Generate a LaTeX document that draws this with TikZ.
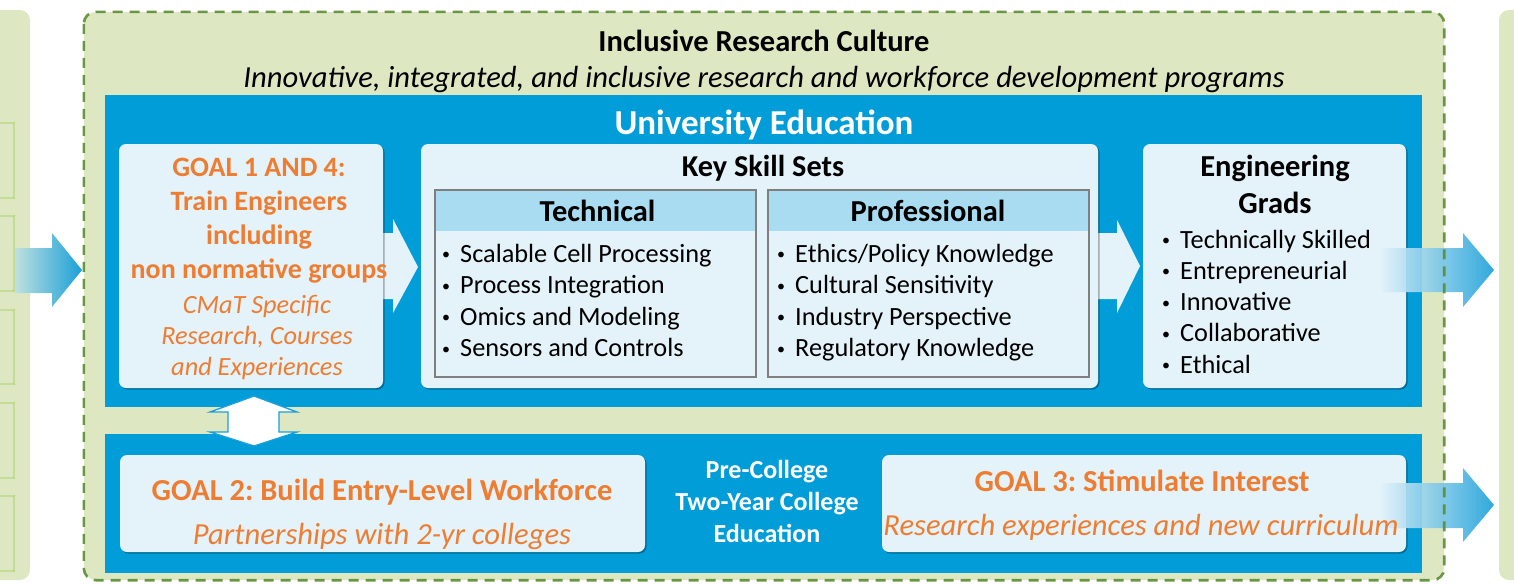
\documentclass[tikz,border=0pt]{standalone}
\usepackage{fontspec}
\setmainfont{Carlito}
\frenchspacing
\usetikzlibrary{calc,shadows}
\definecolor{gfill}{HTML}{DDE8C3}
\definecolor{gdash}{HTML}{5B8C32}
\definecolor{gline}{HTML}{B8D780}
\definecolor{ublue}{HTML}{009DD8}
\definecolor{abluedark}{HTML}{1A9FD8}
\definecolor{lbox}{HTML}{E4F2FA}
\definecolor{hdr}{HTML}{A9DCF1}
\definecolor{borange}{HTML}{EE7D31}
\definecolor{bgray}{HTML}{7F7F7F}
\newcommand{\fs}[2]{\fontsize{#1}{#2}\selectfont}
\newcommand{\bul}{\makebox[18pt][l]{\raisebox{2.5pt}{\fs{16}{16}•}}}
\newcommand{\linesL}[1]{\begin{tabular}[t]{@{}l@{}}#1\end{tabular}}
\newcommand{\linesC}[1]{\begin{tabular}[t]{@{}c@{}}#1\end{tabular}}
\tikzset{
  gpanel/.style={fill=gfill, rounded corners=10pt, inner sep=0pt},
  bluebox/.style={fill=ublue, inner sep=0pt},
  lightbox/.style={fill=lbox, rounded corners=7pt, inner sep=0pt,
    drop shadow={shadow xshift=1.5pt, shadow yshift=-1.5pt, opacity=0.3, fill=black}},
  skillbox/.style={fill=lbox, inner sep=0pt},
  txt/.style={inner sep=0pt, anchor=base},
  txtl/.style={inner sep=0pt, anchor=base west},
  minib/.style={draw=gline, line width=1.2pt, rounded corners=6pt},
  outarrow/.style={left color=lbox, right color=abluedark, fill opacity=0.9}
}
\begin{document}
\begin{tikzpicture}[x=1pt,y=-1pt]
\useasboundingbox (0,0) rectangle (1514,584);
% side panels
\node[gpanel, minimum width=60pt, minimum height=570pt] (lp) at (0,295) {};
\node[gpanel, minimum width=60pt, minimum height=570pt] (rp) at (1529,295) {};
\foreach \a/\b [count=\i] in {123/198,216/291,310/384,403/478,496/571}{
  \draw[minib] (-20,\a) -- (8,\a) arc[start angle=90,end angle=0,radius=6pt] -- (14,\b-6) arc[start angle=0,end angle=-90,radius=6pt] -- (-20,\b);
}
% outer dashed panel fill
\node[fill=gfill, rounded corners=12pt, minimum width=1360pt, minimum height=568pt, inner sep=0pt] (outer) at (764,296) {};
% titles
\node[txt, font=\bfseries\fs{30.5}{36}] (t1) at (764,51) {Inclusive Research Culture};
\node[txt, font=\itshape\fs{30.6}{36}] (t2) at (764,87) {Innovative, integrated, and inclusive research and workforce development programs};
% blue bands
\node[bluebox, minimum width=1317pt, minimum height=312pt] (btop) at (763.5,251) {};
\node[bluebox, minimum width=1317pt, minimum height=139pt] (bbot) at (763.5,503.5) {};
\node[txt, text=white, font=\bfseries\fs{35}{40}] (ue) at (764,134) {University Education};
% arrows in top band (behind boxes)
\fill[lbox] (373,233) -- (393,233) -- (393,219) -- (418,267) -- (393,313) -- (393,299) -- (373,299) -- cycle;
\fill[lbox] (1090,233) -- (1117,233) -- (1117,220) -- (1140,266) -- (1117,313) -- (1117,299) -- (1090,299) -- cycle;
% goal 1
\node[lightbox, minimum width=264pt, minimum height=244pt] (g1) at (251,266) {};
\node[txt, text=borange, font=\bfseries\fs{28}{34.3}] (g1a) at (259,176) {\linesC{GOAL 1 AND 4:\\Train Engineers\\including\\non normative groups}};
\node[txt, text=borange, font=\itshape\fs{26.3}{31}] (g1b) at (257,313) {\linesC{CMaT Specific\\Research, Courses\\and Experiences}};
% key skill sets
\node[lightbox, minimum width=677pt, minimum height=244pt] (sk) at (759.5,266) {};
\node[txt, font=\bfseries\fs{30.3}{36}] (skt) at (763,176) {Key Skill Sets};
\node[skillbox, minimum width=321pt, minimum height=187pt] (tech) at (595.5,283.5) {};
\fill[hdr] (tech.north west) rectangle ($(tech.north east)+(0,41)$);
\draw[bgray, line width=1.8pt] (tech.north west) rectangle (tech.south east);
\node[skillbox, minimum width=321pt, minimum height=187pt] (prof) at (928.5,283.5) {};
\fill[hdr] (prof.north west) rectangle ($(prof.north east)+(0,41)$);
\draw[bgray, line width=1.8pt] (prof.north west) rectangle (prof.south east);
\node[txt, font=\bfseries\fs{30.5}{34}] (techt) at (597.5,221) {Technical};
\node[txt, font=\bfseries\fs{30.5}{34}] (proft) at (928,221) {Professional};
\node[txtl, font=\fs{26.3}{31.5}] (techl) at (442,262) {\linesL{\bul Scalable Cell Processing\\\bul Process Integration\\\bul Omics and Modeling\\\bul Sensors and Controls}};
\node[txtl, font=\fs{26.3}{31.5}] (profl) at (777,262) {\linesL{\bul Ethics/Policy Knowledge\\\bul Cultural Sensitivity\\\bul Industry Perspective\\\bul Regulatory Knowledge}};
% grads
\node[lightbox, minimum width=263pt, minimum height=244pt] (gr) at (1274.5,266) {};
% bottom band boxes
\node[lightbox, minimum width=525pt, minimum height=97pt] (g2) at (382.5,503.5) {};
\node[lightbox, minimum width=524pt, minimum height=97pt] (g3) at (1144,503.5) {};
% right out-arrows (under the texts)
\path[outarrow]
  (1380,248) -- (1463,248) -- (1463,233) -- (1494,270) -- (1463,307) -- (1463,292) -- (1380,292) -- cycle;
\path[outarrow]
  (1380,483) -- (1463,483) -- (1463,468) -- (1494,505) -- (1463,542) -- (1463,528) -- (1380,528) -- cycle;
% grads text
\node[txt, font=\bfseries\fs{30.5}{37}] (grt) at (1275,176) {\linesC{Engineering\\Grads}};
\node[txtl, font=\fs{26.3}{31.25}] (grl) at (1162,248) {\linesL{\bul Technically Skilled\\\bul Entrepreneurial\\\bul Innovative\\\bul Collaborative\\\bul Ethical}};
% bottom band texts
\node[txt, text=borange, font=\bfseries\fs{30.5}{34}] (g2a) at (382,500) {GOAL 2: Build Entry-Level Workforce};
\node[txt, text=borange, font=\itshape\fs{30.6}{34}] (g2b) at (382,544) {Partnerships with 2-yr colleges};
\node[txt, text=borange, font=\bfseries\fs{30.5}{34}] (g3a) at (1142,491) {GOAL 3: Stimulate Interest};
\node[txt, text=borange, font=\itshape\fs{30.6}{34}] (g3b) at (1141,535) {Research experiences and new curriculum};
\node[txt, text=white, font=\bfseries\fs{26}{32}] (mid) at (767,478) {\linesC{Pre-College\\Two-Year College\\Education}};
% double arrow between goal 1 and goal 2
\filldraw[fill=white, draw=abluedark, line width=1.3pt]
  (254,396) -- (297,412) -- (279,412) -- (279,432) -- (297,432) -- (254,446)
  -- (210,432) -- (228,432) -- (228,412) -- (210,412) -- cycle;
% left in-arrow
\path[left color=gfill!40!hdr, right color=abluedark]
  (15,248) -- (52,248) -- (52,233) -- (82,270) -- (52,307) -- (52,293) -- (15,293) -- cycle;
% dashed border on top
\draw[gdash, line width=2.6pt, dash pattern=on 10pt off 7pt, rounded corners=12pt, draw opacity=0.9]
  (outer.north west) rectangle (outer.south east);
\end{tikzpicture}
\end{document}
